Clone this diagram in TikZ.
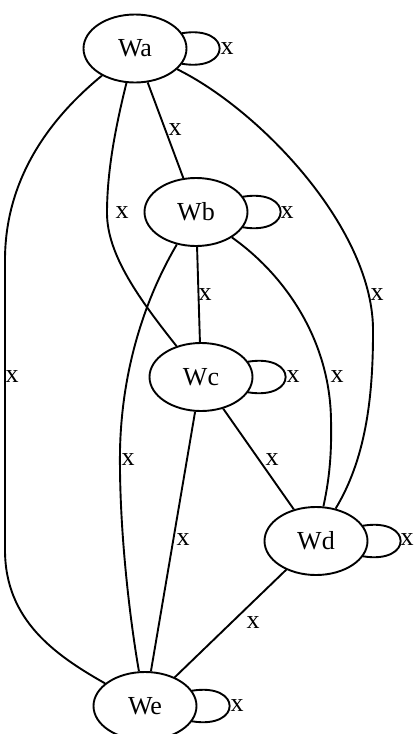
\documentclass[tikz,border=0pt]{standalone}
\usepackage{fontspec}
\setmainfont{Liberation Serif}
\usetikzlibrary{shapes.geometric}
\begin{document}
\begin{tikzpicture}[x=1pt,y=-1pt,
  vertex/.style={draw, ellipse, minimum width=103pt, minimum height=68pt, inner sep=0pt, line width=1.9pt, font=\fontsize{26}{30}\selectfont},
  lbl/.style={inner sep=0pt, font=\fontsize{26}{30}\selectfont},
  edge/.style={draw, line width=1.9pt}]
\clip (0,0) rectangle (416,734);
\fill[white] (0,0) rectangle (416,734);
% vertices
\node[vertex] (Wa) at (135,48.5) {Wa};
\node[vertex] (Wb) at (196,212) {Wb};
\node[vertex] (Wc) at (201,377) {Wc};
\node[vertex] (Wd) at (316,541) {Wd};
\node[vertex] (We) at (145,706) {We};
% self loops
\draw[edge] (Wa.18) .. controls +(50pt,8pt) and +(50pt,-8pt) .. (Wa.-18);
\draw[edge] (Wb.18) .. controls +(50pt,8pt) and +(50pt,-8pt) .. (Wb.-18);
\draw[edge] (Wc.18) .. controls +(50pt,8pt) and +(50pt,-8pt) .. (Wc.-18);
\draw[edge] (Wd.18) .. controls +(50pt,8pt) and +(50pt,-8pt) .. (Wd.-18);
\draw[edge] (We.18) .. controls +(50pt,8pt) and +(50pt,-8pt) .. (We.-18);
% edges
\draw[edge] (Wa) -- (Wb);
\draw[edge] (Wa) .. controls (116,125) and (107,170) .. (107,213) .. controls (107,255) and (140,300) .. (Wc);
\draw[edge] (Wa) .. controls (60,110) and (5,170) .. (5,260) -- (5,550) .. controls (5,620) and (55,655) .. (We);
\draw[edge] (Wa) .. controls (260,110) and (375,230) .. (373,333) .. controls (373,400) and (365,460) .. (Wd);
\draw[edge] (Wb) -- (Wc);
\draw[edge] (Wb) .. controls (285,275) and (330,340) .. (331,420) .. controls (332,460) and (328,485) .. (Wd);
\draw[edge] (Wb) .. controls (150,290) and (122,360) .. (120,450) .. controls (119,530) and (130,620) .. (We);
\draw[edge] (Wc) -- (Wd);
\draw[edge] (Wc) -- (We);
\draw[edge] (Wd) -- (We);
% labels
\node[lbl] (lAA) at (227,49) {x};
\node[lbl] (lAB) at (175,130) {x};
\node[lbl] (lAC) at (122,213) {x};
\node[lbl] (lAD) at (377,295) {x};
\node[lbl] (lAE) at (12,377) {x};
\node[lbl] (lBB) at (287,213) {x};
\node[lbl] (lBC) at (205,295) {x};
\node[lbl] (lBD) at (337,377) {x};
\node[lbl] (lBE) at (128,460) {x};
\node[lbl] (lCC) at (293,377) {x};
\node[lbl] (lCD) at (272,460) {x};
\node[lbl] (lCE) at (183,540) {x};
\node[lbl] (lDD) at (407,540) {x};
\node[lbl] (lDE) at (253,623) {x};
\node[lbl] (lEE) at (237,706) {x};
\end{tikzpicture}
\end{document}
